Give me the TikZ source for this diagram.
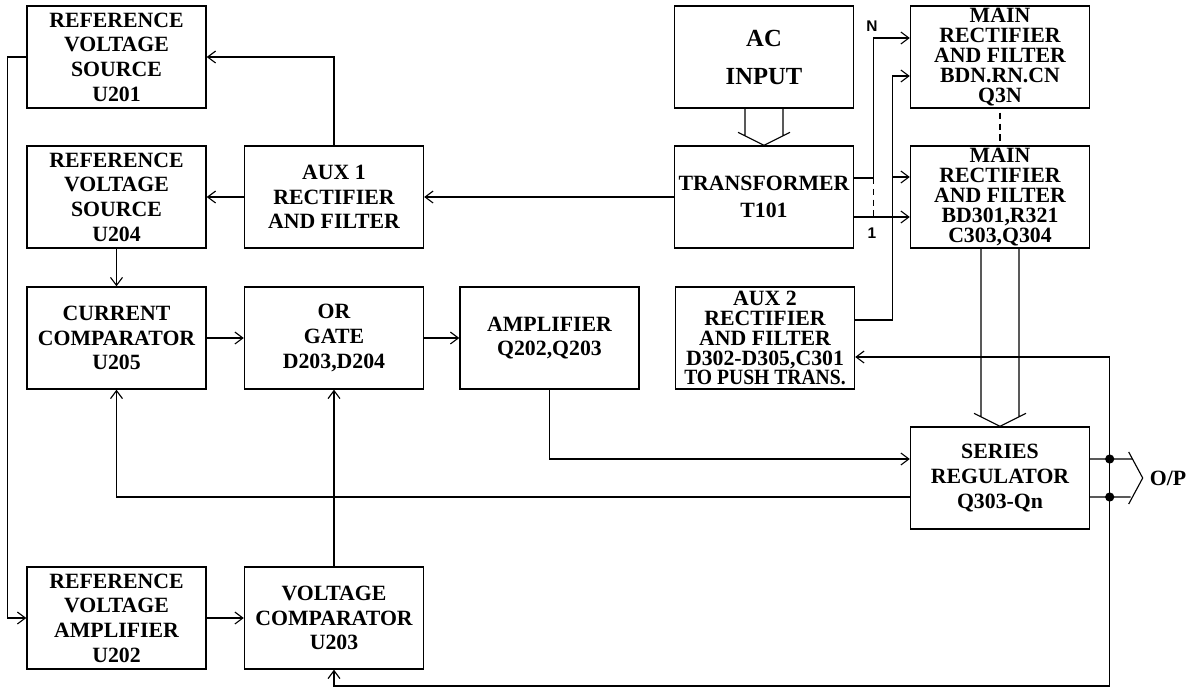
\documentclass[tikz,border=0pt]{standalone}
\usepackage{fontspec}
\setmainfont{Liberation Serif}
\newfontfamily\tagfont{Liberation Sans}
\usetikzlibrary{positioning,arrows.meta,calc}

\begin{document}
\begin{tikzpicture}[x=0.25mm,y=-0.25mm,
  block/.style={draw,line width=1pt,minimum width=44.75mm,minimum height=25.5mm,
    inner sep=0pt,align=center,font=\fontsize{15.5}{17.5}\selectfont\bfseries},
  tight/.style={block,font=\fontsize{15.5}{14.2}\selectfont\bfseries},
  conn/.style={line width=0.8pt,-{Straight Barb[length=2mm,width=3mm]}},
  wire/.style={line width=0.8pt},
  tag/.style={font=\tagfont\bfseries\fontsize{11}{12}\selectfont}]
\useasboundingbox (0,0) rectangle (1192,689);

% --- blocks ---
\node[block] (rv1) at (116.5,57)  {REFERENCE\\VOLTAGE\\SOURCE\\U201};
\node[block] (rv4) at (116.5,197) {REFERENCE\\VOLTAGE\\SOURCE\\U204};
\node[block] (aux1) at (334,197)  {AUX 1\\RECTIFIER\\AND FILTER};
\node[block,font=\fontsize{17.5}{27}\selectfont\bfseries] (ac) at (764,57) {AC\\INPUT};
\node[block,font=\fontsize{15.5}{19}\selectfont\bfseries] (tr) at (764,197) {TRANSFORMER\\T101};
\node[tight] (mainN) at (1000,57) {MAIN\\RECTIFIER\\AND FILTER\\BDN.RN.CN\\Q3N};
\node[tight] (main1) at (1000,197) {MAIN\\RECTIFIER\\AND FILTER\\BD301,R321\\C303,Q304};
\node[block] (cc) at (116.5,338) {CURRENT\\COMPARATOR\\U205};
\node[block] (orgt) at (334,338) {OR\\GATE\\D203,D204};
\node[block] (amp) at (549.5,338) {AMPLIFIER\\Q202,Q203};
\node[tight] (aux2) at (765,338)
  {AUX 2\\RECTIFIER\\AND FILTER\\D302-D305,C301\\\scalebox{0.9}[1]{TO PUSH TRANS.}};
\node[block] (sr) at (1000,478) {SERIES\\REGULATOR\\Q303-Qn};
\node[block] (rva) at (116.5,618) {REFERENCE\\VOLTAGE\\AMPLIFIER\\U202};
\node[block] (vc) at (334,618) {VOLTAGE\\COMPARATOR\\U203};

% --- control chain ---
\draw[conn] (rv1.west) -- ++(-19,0) |- (rva.west);
\draw[conn] (aux1.north) |- (rv1.east);
\draw[conn] (aux1.west) -- (rv4.east);
\draw[conn] (tr.west) -- (aux1.east);
\draw[conn] (rv4.south) -- (cc.north);
\draw[conn] (cc.east) -- (orgt.west);
\draw[conn] (orgt.east) -- (amp.west);
\draw[conn] (rva.east) -- (vc.west);
\draw[conn] (vc.north) -- (orgt.south);
\draw[conn] (amp.south) |- ([yshift=4.75mm]sr.west);
\draw[conn] ([yshift=-4.75mm]sr.west) -| (cc.south);

% --- transformer windings to the main rectifiers ---
\draw[conn] ([yshift=4.75mm]tr.east) -- ++(19,0) coordinate (nx) |- ([yshift=4.75mm]mainN.west);
\draw[conn] ([yshift=-5mm]tr.east) -- ([yshift=-5mm]main1.west);
\draw[wire,dash pattern=on 1.6mm off 1.1mm] (nx) -- ++(0,39);
\node[tag] (nlab) at (872,26) {N};
\node[tag] (onelab) at (872,233) {1};
\draw[wire,dash pattern=on 1.6mm off 1.1mm] ([yshift=-1mm]mainN.south) -- ([yshift=1mm]main1.north);

% --- aux 2 supply ---
\draw[conn] ([yshift=4.5mm]aux2.east) -- ++(37.5,0) coordinate (ax) |- ([yshift=-4.75mm]mainN.west);
\coordinate (m1a) at ([yshift=5mm]main1.west);
\draw[conn] (ax |- m1a) -- (m1a);

% --- wide power arrows ---
\foreach \a/\b in {ac/tr,main1/sr}{
  \draw[wire] ($(\a.south)+(-19,0)$) -- ($(\b.north)+(-19,-9.5)$)
    ($(\a.south)+(19,0)$) -- ($(\b.north)+(19,-9.5)$)
    ($(\b.north)+(-26,-13)$) -- (\b.north) -- ($(\b.north)+(26,-13)$);
}

% --- output and feedback ---
\coordinate (j1) at ($(sr.east)+(19.5,-19)$);
\coordinate (j2) at ($(sr.east)+(19.5,19)$);
\draw[wire] ([yshift=4.75mm]sr.east) -- ($(j1)+(23,0)$);
\draw[wire] ([yshift=-4.75mm]sr.east) -- ($(j2)+(21,0)$);
\draw[wire] (j1) -- (j2);
\draw[conn] (j1) |- ([yshift=-4.75mm]aux2.east);
\draw[conn] (j2) -- ++(0,189) -| (vc.south);
\fill (j1) circle[radius=1.15mm];
\fill (j2) circle[radius=1.15mm];
\draw[wire] ($(j1)+(19,-7)$) -- ($(j1)+(33,19)$) -- ($(j2)+(19,7)$);
\node[font=\fontsize{15.5}{17}\selectfont\bfseries] (op) at (1168,478) {O/P};
\end{tikzpicture}
\end{document}
